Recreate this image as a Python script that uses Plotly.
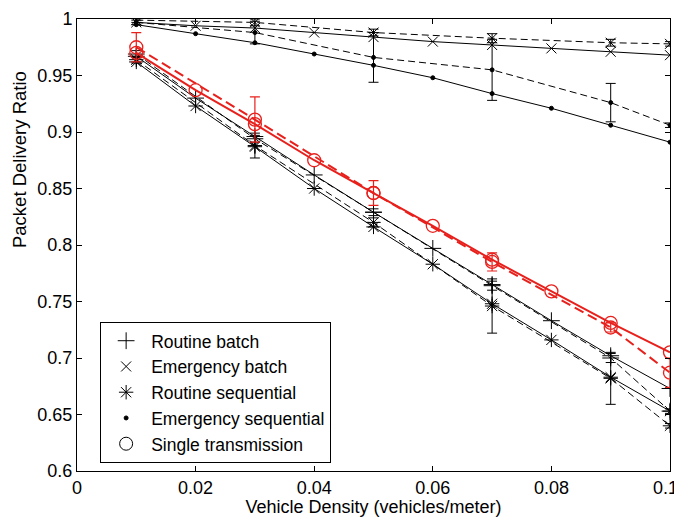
import plotly.graph_objects as go

# ---- data ----
x_model = [0.01, 0.02, 0.03, 0.04, 0.05, 0.06, 0.07, 0.08, 0.09, 0.10]
x_sim = [0.01, 0.03, 0.05, 0.07, 0.09, 0.10]

routine_batch_model = [0.967, 0.930, 0.896, 0.862, 0.829, 0.797, 0.765, 0.733, 0.702, 0.673]
emergency_batch_model = [0.997, 0.994, 0.992, 0.988, 0.984, 0.980, 0.977, 0.974, 0.971, 0.968]
routine_seq_model = [0.962, 0.923, 0.887, 0.850, 0.816, 0.783, 0.748, 0.716, 0.683, 0.653]
emergency_seq_model = [0.995, 0.987, 0.979, 0.969, 0.959, 0.948, 0.934, 0.921, 0.906, 0.891]
single_model = [0.970, 0.937, 0.907, 0.875, 0.846, 0.817, 0.787, 0.759, 0.731, 0.705]

routine_batch_sim = [0.969, 0.894, 0.829, 0.764, 0.700, 0.653]
routine_batch_err = [0.003, 0.003, 0.003, 0.004, 0.004, 0.002]
emergency_batch_sim = [0.999, 0.997, 0.988, 0.983, 0.979, 0.978]
emergency_batch_err = [0.002, 0.003, 0.003, 0.004, 0.003, 0.002]
routine_seq_sim = [0.964, 0.888, 0.820, 0.746, 0.682, 0.640]
routine_seq_err = [0.003, 0.011, 0.004, 0.024, 0.023, 0.002]
emergency_seq_sim = [0.997, 0.988, 0.966, 0.955, 0.926, 0.906]
emergency_seq_err = [0.002, 0.010, 0.022, 0.027, 0.017, 0.002]
single_sim = [0.975, 0.911, 0.846, 0.785, 0.727, 0.687]
single_err = [0.013, 0.020, 0.011, 0.008, 0.004, 0.013]

legend_names = ["Routine batch", "Emergency batch", "Routine sequential",
                "Emergency sequential", "Single transmission"]

x_ticks = [0, 0.02, 0.04, 0.06, 0.08, 0.1]
x_ticktext = ["0", "0.02", "0.04", "0.06", "0.08", ""]  # last label drawn below
x_last_label = "0.1"
y_ticks = [0.6, 0.65, 0.7, 0.75, 0.8, 0.85, 0.9, 0.95, 1.0]
y_ticktext = ["0.6", "0.65", "0.7", "0.75", "0.8", "0.85", "0.9", "0.95", "1"]

# ---- styles ----
BLACK = "black"
RED = "#e8201c"
styles = [
    dict(symbol="cross-thin", size=12, color=BLACK),
    dict(symbol="x-thin", size=10, color=BLACK),
    dict(symbol="asterisk", size=12, color=BLACK),
    dict(symbol="circle", size=4, color=BLACK),
    dict(symbol="circle-open", size=13, color=RED),
]

models = [routine_batch_model, emergency_batch_model, routine_seq_model,
          emergency_seq_model, single_model]
sims = [routine_batch_sim, emergency_batch_sim, routine_seq_sim,
        emergency_seq_sim, single_sim]
errs = [routine_batch_err, emergency_batch_err, routine_seq_err,
        emergency_seq_err, single_err]

fig = go.Figure()


def marker_of(st, color=None):
    c = color or st["color"]
    return dict(symbol=st["symbol"], size=st["size"], color=c,
                line=dict(color=c, width=1.3 if c == RED else 1))


for i in range(5):
    st = styles[i]
    lw = 2 if st["color"] == RED else 1
    fig.add_trace(go.Scatter(
        x=x_model, y=models[i], mode="lines+markers", showlegend=False,
        line=dict(color=st["color"], width=lw),
        marker=marker_of(st)))
    fig.add_trace(go.Scatter(
        x=x_sim, y=sims[i], mode="lines+markers", showlegend=False,
        line=dict(color=st["color"], width=lw,
                  dash="10px,5px" if st["color"] == RED else "7px,4px"),
        marker=marker_of(st),
        error_y=dict(type="data", array=errs[i], color=st["color"],
                     thickness=1.2 if st["color"] == RED else 1, width=5)))

# legend entries (markers only)
for i in range(5):
    st = styles[i]
    fig.add_trace(go.Scatter(
        x=[None], y=[None], mode="markers", name=legend_names[i],
        marker=marker_of(st, BLACK)))

axis_common = dict(ticks="inside", ticklen=5, tickcolor="black", showgrid=False,
                   zeroline=False, showline=True, linecolor="black", linewidth=1,
                   mirror="ticks", automargin=False,
                   tickfont=dict(size=18))

# The page body has an 8px margin, so the figure is 8px smaller and offset.
fig.update_layout(
    width=674, height=509, autosize=False,
    margin=dict(l=69, r=12, t=11, b=46, pad=0),
    paper_bgcolor="white", plot_bgcolor="white",
    font=dict(family="Liberation Sans, Arial, sans-serif", size=18, color="black"),
    showlegend=True,
    legend=dict(x=0.039, y=0.33, xanchor="left", yanchor="top",
                bgcolor="white", bordercolor="black", borderwidth=1,
                font=dict(size=17.5), tracegroupgap=0, itemsizing="trace",
                itemwidth=40),
    xaxis=dict(range=[0, 0.1], tickvals=x_ticks, ticktext=x_ticktext,
               title=dict(text="Vehicle Density (vehicles/meter)",
                          font=dict(size=18)),
               **axis_common),
    yaxis=dict(range=[0.6, 1.0], tickvals=y_ticks, ticktext=y_ticktext,
               **axis_common),
    annotations=[
        dict(text="Packet Delivery Ratio", textangle=-90,
             xref="paper", yref="paper", x=-0.098, y=0.69,
             xanchor="center", yanchor="middle",
             showarrow=False, font=dict(size=18.5)),
        dict(text=x_last_label, xref="paper", yref="paper", x=1, y=0,
             xanchor="right", yanchor="middle", xshift=9, yshift=-17,
             showarrow=False, borderpad=0, font=dict(size=18)),
    ],
)

fig.write_html("out.html")
